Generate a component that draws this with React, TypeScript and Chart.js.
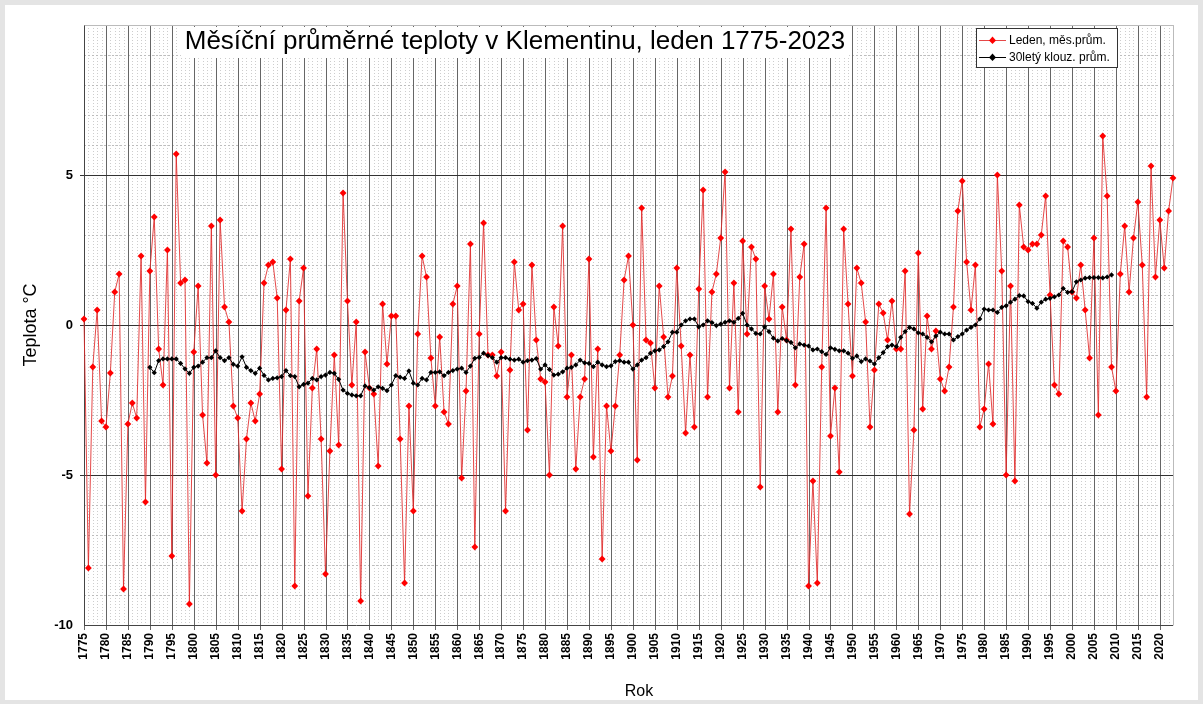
import React, { useEffect, useRef } from 'react';
import { Chart, registerables } from 'chart.js';

Chart.register(...registerables);

const FIRST_YEAR = 1775;
const LAST_YEAR = 2023;
const MA_FIRST_YEAR = 1790;

// January mean temperatures, Klementinum (°C), 1775–2023
const januaryTemps = [
  0.2, -8.1, -1.4, 0.5, -3.2, -3.4, -1.6, 1.1, 1.7, -8.8,
  -3.3, -2.6, -3.1, 2.3, -5.9, 1.8, 3.6, -0.8, -2.0, 2.5,
  -7.7, 5.7, 1.4, 1.5, -9.3, -0.9, 1.3, -3.0, -4.6, 3.3,
  -5.0, 3.5, 0.6, 0.1, -2.7, -3.1, -6.2, -3.8, -2.6, -3.2,
  -2.3, 1.4, 2.0, 2.1, 0.9, -4.8, 0.5, 2.2, -8.7, 0.8,
  1.9, -5.7, -2.1, -0.8, -3.8, -8.3, -4.2, -1.0, -4.0, 4.4,
  0.8, -2.0, 0.1, -9.2, -0.9, -2.1, -2.3, -4.7, 0.7, -1.3,
  0.3, 0.3, -3.8, -8.6, -2.7, -6.2, -0.3, 2.3, 1.6, -1.1,
  -2.7, -0.4, -2.9, -3.3, 0.7, 1.3, -5.1, -2.2, 2.7, -7.4,
  -0.3, 3.4, -1.0, -1.0, -1.7, -0.9, -6.2, -1.5, 2.1, 0.5,
  0.7, -3.5, 2.0, -0.5, -1.8, -1.9, -5.0, 0.6, -0.7, 3.3,
  -2.4, -1.0, -4.8, -2.4, -1.8, 2.2, -4.4, -0.8, -7.8, -2.7,
  -4.2, -2.7, -1.0, 1.5, 2.3, 0.0, -4.5, 3.9, -0.5, -0.6,
  -2.1, 1.3, -0.4, -2.4, -1.7, 1.9, -0.7, -3.6, -1.0, -3.4,
  1.2, 4.5, -2.4, 1.1, 1.7, 2.9, 5.1, -2.1, 1.4, -2.9,
  2.8, -0.3, 2.6, 2.2, -5.4, 1.3, 0.2, 1.7, -2.9, 0.6,
  -0.5, 3.2, -2.0, 1.6, 2.7, -8.7, -5.2, -8.6, -1.4, 3.9,
  -3.7, -2.1, -4.9, 3.2, 0.7, -1.7, 1.9, 1.4, 0.1, -3.4,
  -1.5, 0.7, 0.4, -0.5, 0.8, -0.8, -0.8, 1.8, -6.3, -3.5,
  2.4, -2.8, 0.3, -0.8, -0.2, -1.8, -2.2, -1.4, 0.6, 3.8,
  4.8, 2.1, 0.5, 2.0, -3.4, -2.8, -1.3, -3.3, 5.0, 1.8,
  -5.0, 1.3, -5.2, 4.0, 2.6, 2.5, 2.7, 2.7, 3.0, 4.3,
  1.0, -2.0, -2.3, 2.8, 2.6, 1.1, 0.9, 2.0, 0.5, -1.1,
  2.9, -3.0, 6.3, 4.3, -1.4, -2.2, 1.7, 3.3, 1.1, 2.9,
  4.1, 2.0, -2.4, 5.3, 1.6, 3.5, 1.9, 3.8, 4.9,
];

// 30-year moving average (°C), 1790–2009
const movingAverage = [
  -1.41, -1.59, -1.19, -1.13, -1.13, -1.13, -1.13, -1.28, -1.46, -1.61,
  -1.41, -1.37, -1.24, -1.09, -1.09, -0.86, -1.09, -1.19, -1.09, -1.31,
  -1.37, -1.06, -1.41, -1.52, -1.61, -1.44, -1.68, -1.83, -1.78, -1.76,
  -1.72, -1.52, -1.69, -1.72, -2.06, -1.98, -1.94, -1.78, -1.83, -1.72,
  -1.67, -1.58, -1.61, -1.81, -2.17, -2.28, -2.33, -2.36, -2.36, -2.03,
  -2.09, -2.17, -2.06, -2.11, -2.19, -2.0, -1.69, -1.74, -1.78, -1.53,
  -1.94, -2.0, -1.78, -1.83, -1.58, -1.58, -1.56, -1.69, -1.58, -1.52,
  -1.47, -1.44, -1.58, -1.37, -1.11, -1.08, -0.94, -1.02, -1.09, -1.24,
  -1.09, -1.09, -1.14, -1.17, -1.14, -1.24, -1.19, -1.17, -1.12, -1.47,
  -1.33, -1.48, -1.67, -1.64, -1.56, -1.44, -1.41, -1.33, -1.17, -1.26,
  -1.28, -1.39, -1.24, -1.33, -1.39, -1.36, -1.22, -1.19, -1.24, -1.24,
  -1.47, -1.33, -1.17, -1.09, -0.94, -0.86, -0.83, -0.72, -0.56, -0.24,
  -0.24, 0.0, 0.14, 0.2, 0.2, -0.06, 0.0, 0.14, 0.08, -0.02,
  0.03, 0.09, 0.14, 0.09, 0.22, 0.39, 0.0, -0.13, -0.28, -0.3,
  -0.06, -0.22, -0.44, -0.53, -0.45, -0.52, -0.58, -0.76, -0.63, -0.67,
  -0.7, -0.83, -0.8, -0.89, -0.98, -0.76, -0.81, -0.86, -0.86, -0.94,
  -1.11, -1.03, -1.22, -1.13, -1.2, -1.3, -1.09, -0.92, -0.72, -0.67,
  -0.72, -0.41, -0.22, -0.08, -0.13, -0.26, -0.3, -0.41, -0.56, -0.37,
  -0.24, -0.3, -0.3, -0.5, -0.39, -0.3, -0.17, -0.08, 0.0, 0.2,
  0.53, 0.5, 0.5, 0.42, 0.59, 0.64, 0.76, 0.86, 0.98, 0.97,
  0.78, 0.72, 0.56, 0.76, 0.86, 0.89, 0.94, 1.0, 1.22, 1.09,
  1.11, 1.44, 1.5, 1.56, 1.58, 1.58, 1.58, 1.57, 1.6, 1.67,
];

const Y_MIN = -10;
const Y_MAX = 10;
const yTickValues = [-10, -5, 0, 5];
const xTickValues = [
  1775, 1780, 1785, 1790, 1795, 1800, 1805, 1810, 1815, 1820, 1825, 1830, 1835, 1840, 1845, 1850,
  1855, 1860, 1865, 1870, 1875, 1880, 1885, 1890, 1895, 1900, 1905, 1910, 1915, 1920, 1925, 1930,
  1935, 1940, 1945, 1950, 1955, 1960, 1965, 1970, 1975, 1980, 1985, 1990, 1995, 2000, 2005, 2010,
  2015, 2020,
];

const TITLE = 'Měsíční průměrné teploty v Klementinu, leden 1775-2023';
const SERIES_LABELS = ['Leden, měs.prům.', '30letý klouz. prům.'];
const X_TITLE = 'Rok';
const Y_TITLE = 'Teplota °C';

const FONT = '"Liberation Sans", Arial, sans-serif';

const decorPlugin = {
  id: 'decor',
  beforeDraw(chart: any) {
    const ctx = chart.ctx;
    const W = chart.width;
    const H = chart.height;
    ctx.save();
    ctx.fillStyle = '#e4e4e4';
    ctx.fillRect(0, 0, W, H);
    ctx.fillStyle = '#ffffff';
    ctx.fillRect(5, 5, W - 10, H - 9);
    ctx.restore();
  },
  beforeDatasetsDraw(chart: any) {
    const ctx = chart.ctx;
    const { left, right, top, bottom } = chart.chartArea;
    const xs = chart.scales.x;
    const ys = chart.scales.y;
    ctx.save();
    // minor grid (yearly / 1 degree) dotted
    ctx.strokeStyle = '#cdcdcd';
    ctx.lineWidth = 1;
    ctx.setLineDash([1, 2]);
    for (let yr = FIRST_YEAR; yr <= LAST_YEAR; yr++) {
      if (yr % 5 === 0) continue;
      const px = Math.round(xs.getPixelForValue(yr)) + 0.5;
      ctx.beginPath();
      ctx.moveTo(px, top);
      ctx.lineTo(px, bottom);
      ctx.stroke();
    }
    ctx.strokeStyle = '#bdbdbd';
    ctx.setLineDash([2, 2]);
    for (let v = Y_MIN + 1; v < Y_MAX; v++) {
      if (v % 5 === 0) continue;
      const py = Math.round(ys.getPixelForValue(v)) + 0.5;
      ctx.beginPath();
      ctx.moveTo(left, py);
      ctx.lineTo(right, py);
      ctx.stroke();
    }
    ctx.setLineDash([]);
    // major grid
    ctx.strokeStyle = '#666666';
    for (const yr of xTickValues) {
      const px = Math.round(xs.getPixelForValue(yr)) + 0.5;
      ctx.beginPath();
      ctx.moveTo(px, top);
      ctx.lineTo(px, bottom + 5);
      ctx.stroke();
    }
    ctx.strokeStyle = '#333333';
    for (let v = Y_MIN + 5; v < Y_MAX; v += 5) {
      const py = Math.round(ys.getPixelForValue(v)) + 0.5;
      ctx.beginPath();
      ctx.moveTo(left - 4, py);
      ctx.lineTo(right, py);
      ctx.stroke();
    }
    // frame
    ctx.strokeStyle = '#444444';
    ctx.beginPath();
    ctx.moveTo(Math.round(left) + 0.5, top);
    ctx.lineTo(Math.round(left) + 0.5, Math.round(bottom) + 0.5);
    ctx.lineTo(right, Math.round(bottom) + 0.5);
    ctx.stroke();
    ctx.strokeStyle = '#bbbbbb';
    ctx.beginPath();
    ctx.moveTo(Math.round(left) + 0.5, Math.round(top) + 0.5);
    ctx.lineTo(Math.round(right) + 0.5, Math.round(top) + 0.5);
    ctx.lineTo(Math.round(right) + 0.5, Math.round(bottom) + 0.5);
    ctx.stroke();
    ctx.restore();
  },
  afterDatasetsDraw(chart: any) {
    const ctx = chart.ctx;
    ctx.save();
    // title with white background
    ctx.font = `26px ${FONT}`;
    const tw = ctx.measureText(TITLE).width;
    const tcx = 515;
    const tcy = 42;
    ctx.fillStyle = '#ffffff';
    ctx.fillRect(tcx - tw / 2 - 4, 27, tw + 8, 31);
    ctx.fillStyle = '#000000';
    ctx.textAlign = 'center';
    ctx.textBaseline = 'middle';
    ctx.fillText(TITLE, tcx, tcy);

    // legend
    const lx = 976.5;
    const ly = 28.5;
    const lw = 141;
    const lh = 39;
    ctx.fillStyle = '#ffffff';
    ctx.fillRect(lx, ly, lw, lh);
    ctx.strokeStyle = '#333333';
    ctx.lineWidth = 1;
    ctx.strokeRect(lx, ly, lw, lh);
    const rows = [
      { label: SERIES_LABELS[0], line: 'rgba(225,40,40,0.85)', fill: '#ff0000', y: 40 },
      { label: SERIES_LABELS[1], line: '#000000', fill: '#000000', y: 57 },
    ];
    ctx.font = `12px ${FONT}`;
    ctx.textAlign = 'left';
    ctx.textBaseline = 'middle';
    for (const r of rows) {
      ctx.strokeStyle = r.line;
      ctx.beginPath();
      ctx.moveTo(979, r.y + 0.5);
      ctx.lineTo(1006, r.y + 0.5);
      ctx.stroke();
      ctx.fillStyle = r.fill;
      ctx.beginPath();
      ctx.moveTo(992.5, r.y - 3.5);
      ctx.lineTo(996, r.y + 0.5);
      ctx.lineTo(992.5, r.y + 4);
      ctx.lineTo(989, r.y + 0.5);
      ctx.closePath();
      ctx.fill();
      ctx.fillStyle = '#000000';
      ctx.fillText(r.label, 1009, r.y + 1);
    }

    // axis titles
    ctx.fillStyle = '#000000';
    ctx.font = `18px ${FONT}`;
    ctx.textAlign = 'center';
    ctx.textBaseline = 'middle';
    ctx.save();
    ctx.translate(31, 325);
    ctx.rotate(-Math.PI / 2);
    ctx.fillText(Y_TITLE, 0, 0);
    ctx.restore();
    ctx.font = `16px ${FONT}`;
    ctx.fillText(X_TITLE, 639, 692);
    ctx.restore();
  },
};

export default function App() {
  const canvasRef = useRef<HTMLCanvasElement | null>(null);

  useEffect(() => {
    const canvas = canvasRef.current;
    if (!canvas) return;
    const tempPoints = januaryTemps.map((v, i) => ({ x: FIRST_YEAR + i, y: v }));
    const maPoints = movingAverage.map((v, i) => ({ x: MA_FIRST_YEAR + i, y: v }));

    const chart = new Chart(canvas, {
      type: 'line',
      data: {
        datasets: [
          {
            label: SERIES_LABELS[1],
            data: maPoints,
            borderColor: '#000000',
            borderWidth: 1,
            pointStyle: 'rectRot',
            pointRadius: 2.6,
            pointBackgroundColor: '#000000',
            pointBorderColor: '#000000',
            pointBorderWidth: 0,
            tension: 0,
            fill: false,
            clip: false,
          },
          {
            label: SERIES_LABELS[0],
            data: tempPoints,
            borderColor: 'rgba(225,40,40,0.85)',
            borderWidth: 1,
            pointStyle: 'rectRot',
            pointRadius: 3.4,
            pointBackgroundColor: '#ff0000',
            pointBorderColor: '#ff0000',
            pointBorderWidth: 0,
            tension: 0,
            fill: false,
            clip: false,
          },
        ],
      },
      options: {
        responsive: false,
        animation: false,
        devicePixelRatio: 1,
        layout: { padding: { left: 0, right: 30, top: 25, bottom: 0 } },
        plugins: {
          legend: { display: false },
          title: { display: false },
          tooltip: { enabled: false },
        },
        scales: {
          x: {
            type: 'linear',
            min: FIRST_YEAR,
            max: LAST_YEAR,
            grid: { display: false },
            border: { display: false },
            afterFit(scale: any) {
              scale.height = 79;
            },
            afterBuildTicks(scale: any) {
              scale.ticks = xTickValues.map((v) => ({ value: v }));
            },
            ticks: {
              autoSkip: false,
              minRotation: 90,
              maxRotation: 90,
              padding: 0,
              color: '#000000',
              font: { family: FONT, size: 12, weight: 'bold' },
              callback: (v: any) => String(v),
            },
          },
          y: {
            type: 'linear',
            min: Y_MIN,
            max: Y_MAX,
            grid: { display: false },
            border: { display: false },
            afterFit(scale: any) {
              scale.width = 84;
            },
            afterBuildTicks(scale: any) {
              scale.ticks = yTickValues.map((v) => ({ value: v }));
            },
            ticks: {
              padding: 3,
              color: '#000000',
              font: { family: FONT, size: 13, weight: 'bold' },
              callback: (v: any) => String(v),
            },
          },
        },
      },
      plugins: [decorPlugin],
    });

    return () => {
      chart.destroy();
    };
  }, []);

  return (
    <div style={{ position: 'fixed', left: 0, top: 0, width: 1203, height: 704 }}>
      <canvas ref={canvasRef} width={1203} height={704} style={{ width: 1203, height: 704, display: 'block' }} />
    </div>
  );
}
